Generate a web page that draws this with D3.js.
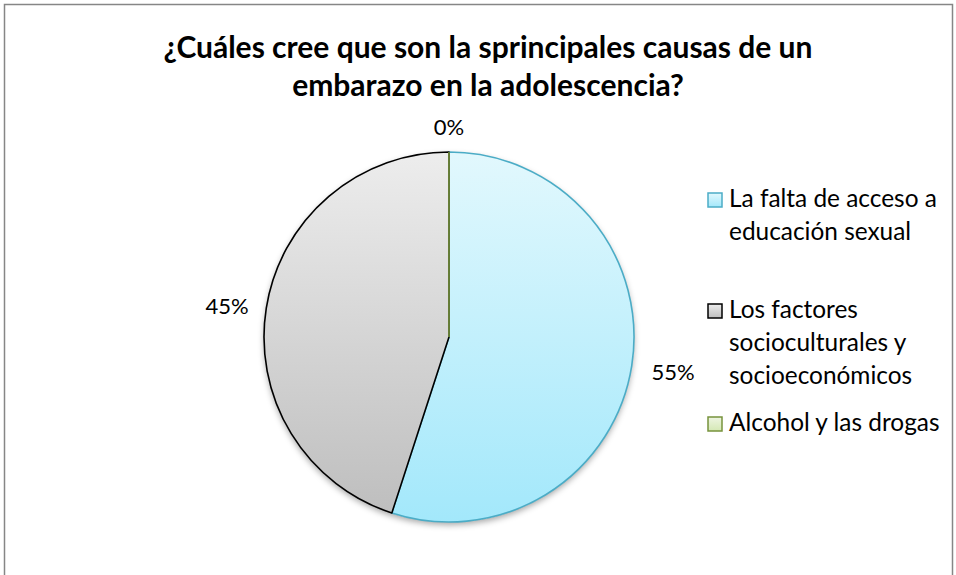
<!DOCTYPE html>
<html><head><meta charset="utf-8">
<script src="https://cdn.jsdelivr.net/npm/d3@7"></script>
<style>body{margin:0;background:#fff;} svg{display:block;}</style>
</head><body>
<script>
const titleLines = ["¿Cuáles cree que son la sprincipales causas de un", "embarazo en la adolescencia?"];
const categories = ["La falta de acceso a educación sexual", "Los factores socioculturales y socioeconómicos", "Alcohol y las drogas"];
const legendLines = [["La falta de acceso a", "educación sexual"], ["Los factores", "socioculturales y", "socioeconómicos"], ["Alcohol y las drogas"]];
const values = [55, 45, 0];
const labels = ["55%", "45%", "0%"];

const W = 956, H = 575;
const font = "Lato, 'Open Sans', sans-serif";
const svg = d3.select("body").append("svg").attr("width", W).attr("height", H);
const defs = svg.append("defs");

const styles = [
  {top: "#e2f8fd", bot: "#a3e8fb", stroke: "#4bacc6"},
  {top: "#ededed", bot: "#bdbdbd", stroke: "#000000"},
  {top: "#eef5e2", bot: "#d4e8b4", stroke: "#77933c"}
];
const cx = 449, cy = 337, R = 185;
styles.forEach((s, i) => {
  const g = defs.append("linearGradient").attr("id", "g" + i)
    .attr("gradientUnits", "userSpaceOnUse").attr("x1", 0).attr("y1", -R).attr("x2", 0).attr("y2", R);
  g.append("stop").attr("offset", 0).attr("stop-color", s.top);
  g.append("stop").attr("offset", 1).attr("stop-color", s.bot);
  const lg = defs.append("linearGradient").attr("id", "lg" + i).attr("x1", 0).attr("y1", 0).attr("x2", 0).attr("y2", 1);
  lg.append("stop").attr("offset", 0).attr("stop-color", s.top);
  lg.append("stop").attr("offset", 1).attr("stop-color", s.bot);
});
const f = defs.append("filter").attr("id", "shadow").attr("x", "-10%").attr("y", "-10%").attr("width", "120%").attr("height", "125%");
f.append("feDropShadow").attr("dx", 0).attr("dy", 3).attr("stdDeviation", 3).attr("flood-color", "#000").attr("flood-opacity", 0.35);

// border
svg.append("rect").attr("x", 4.5).attr("y", 4.5).attr("width", 948).attr("height", 600)
  .attr("fill", "#fff").attr("stroke", "#868686").attr("stroke-width", 1.5);

function fitText(sel, target) {
  const w = sel.node().getComputedTextLength();
  const fs = parseFloat(sel.attr("font-size"));
  const nf = fs * target / w;
  sel.attr("font-size", nf);
  return nf;
}
const titleY = [58, 96];
const titleW = [649, 392];
titleLines.forEach((t, i) => {
  const tx = svg.append("text").attr("x", 488).attr("y", titleY[i]).attr("text-anchor", "middle")
    .attr("font-family", font).attr("font-weight", "bold").attr("font-size", 24).attr("fill", "#000").text(t);
  fitText(tx, titleW[i]);
});

// pie
const pie = d3.pie().sort(null).value(d => d).startAngle(0).endAngle(2 * Math.PI);
const arcs = pie(values);
const arc = d3.arc().innerRadius(0).outerRadius(R);
const pg = svg.append("g").attr("transform", `translate(${cx},${cy})`);
pg.append("circle").attr("r", R).attr("fill", "#fff").attr("filter", "url(#shadow)");
arcs.forEach((a, i) => {
  if (a.endAngle - a.startAngle > 1e-6) {
    pg.append("path").attr("d", arc(a)).attr("fill", `url(#g${i})`)
      .attr("stroke", styles[i].stroke).attr("stroke-width", 1.6).attr("stroke-linejoin", "round");
  }
});
arcs.forEach((a, i) => {
  if (a.endAngle - a.startAngle <= 1e-6) {
    const ang = a.startAngle;
    pg.append("line").attr("x1", 0).attr("y1", 0)
      .attr("x2", R * Math.sin(ang)).attr("y2", -R * Math.cos(ang))
      .attr("stroke", styles[i].stroke).attr("stroke-width", 1.6);
  }
});

// data labels
const labelPos = [[673, 380], [227, 314], [449, 135]];
arcs.forEach((a, i) => {
  svg.append("text").attr("x", labelPos[i][0]).attr("y", labelPos[i][1]).attr("text-anchor", "middle")
    .attr("font-family", font).attr("font-size", 22).attr("fill", "#000").text(labels[i]);
});

// legend
const boxY = [193, 304, 417];
const lineH = 33;
const probe = svg.append("text").attr("font-family", font).attr("font-size", 21).text(legendLines[0][0]);
const legendFont = fitText(probe, 208);
probe.remove();
legendLines.forEach((lines, i) => {
  svg.append("rect").attr("x", 708).attr("y", boxY[i]).attr("width", 14).attr("height", 14)
    .attr("fill", `url(#lg${i})`).attr("stroke", styles[i].stroke).attr("stroke-width", 1.5);
  lines.forEach((l, j) => {
    svg.append("text").attr("x", 729).attr("y", boxY[i] + 14 + j * lineH)
      .attr("font-family", font).attr("font-size", legendFont).attr("fill", "#000").text(l);
  });
});
</script>
</body></html>
